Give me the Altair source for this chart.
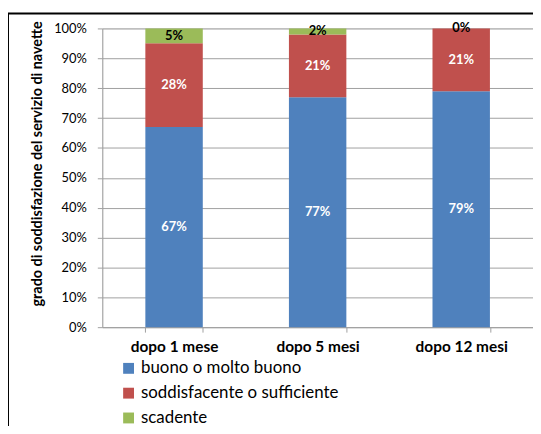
import altair as alt
import pandas as pd

categories = ["dopo 1 mese", "dopo 5 mesi", "dopo 12 mesi"]
series = ["buono o molto buono", "soddisfacente o sufficiente", "scadente"]
buono = [67, 77, 79]
soddisf = [28, 21, 21]
scadente = [5, 2, 0]
colors = ["#4F81BD", "#C0504D", "#9BBB59"]
label_colors = ["white", "white", "black"]
y_ticks = [0, 0.1, 0.2, 0.3, 0.4, 0.5, 0.6, 0.7, 0.8, 0.9, 1.0]

rows = []
for i, c in enumerate(categories):
    for k, (s, vals) in enumerate(zip(series, [buono, soddisf, scadente])):
        rows.append({"cat": c, "serie": s, "k": k, "v": vals[i] / 100.0,
                     "lab": f"{vals[i]}%", "lc": label_colors[k]})
df = pd.DataFrame(rows)

FONT = "Lato"

x_axis = alt.Axis(title=None, labelAngle=0, labelFont=FONT, labelFontWeight="bold",
                  labelFontSize=15.5, labelColor="black", labelPadding=8,
                  tickBand="extent", tickSize=5, tickColor="#A0A0A0",
                  domainColor="#A0A0A0", grid=False)
y_axis = alt.Axis(format=".0%", values=y_ticks, labelOverlap=False,
                  title="grado di soddisfazione del servizio di navette",
                  titleFont=FONT, titleFontSize=14.5, titleFontWeight="bold",
                  titleColor="black", titleX=-65, titleY=136, titleAngle=-90,
                  titleAlign="center", titleBaseline="middle",
                  labelFont=FONT, labelFontSize=13, labelColor="black",
                  labelPadding=11, tickSize=5, tickColor="#A0A0A0",
                  domainColor="#A0A0A0", gridColor="#A0A0A0", gridWidth=1)
x_scale = alt.Scale(paddingInner=0.6, paddingOuter=0.3)
y_scale = alt.Scale(domain=[0, 1])

base = alt.Chart(df)

bars = base.mark_bar(stroke=None).encode(
    x=alt.X("cat:N", sort=categories, scale=x_scale, axis=x_axis),
    y=alt.Y("v:Q", stack="zero", scale=y_scale, axis=y_axis),
    color=alt.Color("serie:N", sort=series,
                    scale=alt.Scale(domain=series, range=colors),
                    legend=alt.Legend(title=None, orient="none", legendX=18, legendY=334,
                                      direction="vertical", symbolType="square",
                                      symbolSize=120, symbolStrokeWidth=0,
                                      labelFont=FONT, labelFontSize=17, labelColor="black",
                                      labelLimit=0, rowPadding=7, labelOffset=4)),
    order=alt.Order("k:Q", sort="ascending"),
)

text = base.transform_stack(
    stack="v", groupby=["cat"], as_=["y0", "y1"], sort=[alt.SortField("k", order="ascending")]
).transform_calculate(
    mid="(datum.y0 + datum.y1) / 2"
).mark_text(font=FONT, fontSize=13, fontWeight="bold", baseline="middle").encode(
    x=alt.X("cat:N", sort=categories, scale=x_scale, axis=x_axis),
    y=alt.Y("mid:Q", scale=y_scale, axis=y_axis),
    text="lab:N",
    color=alt.Color("lc:N", scale=None, legend=None),
)

frame_top = alt.Chart(pd.DataFrame({"a": [0]})).mark_rule(color="black", strokeWidth=2, clip=False).encode(
    x=alt.value(-95), x2=alt.value(450), y=alt.value(-15))
frame_left = alt.Chart(pd.DataFrame({"a": [0]})).mark_rule(color="black", strokeWidth=2, clip=False).encode(
    x=alt.value(-95), y=alt.value(-15), y2=alt.value(420))

chart = alt.layer(bars, text, frame_top, frame_left).properties(
    width=434, height=301,
    autosize=alt.AutoSizeParams(type="none"),
    padding={"left": 95, "top": 19, "right": 0, "bottom": 98},
).configure_view(stroke=None).configure(background="white")

chart.save("out.html", embed_options={"renderer": "svg", "actions": False})
